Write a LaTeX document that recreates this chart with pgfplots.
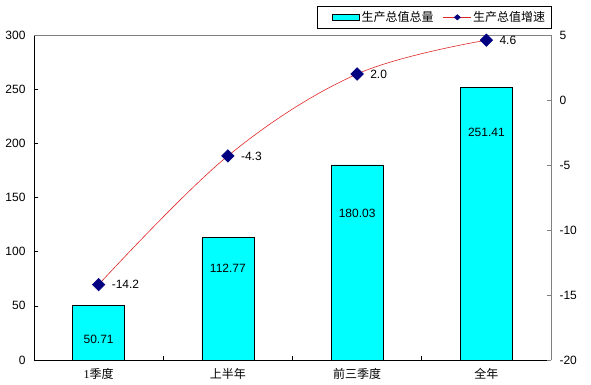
\documentclass[border=0pt]{standalone}
\usepackage{pgfplots}
\pgfplotsset{compat=1.18}
\usepackage{fontspec}
\setmainfont{Liberation Sans}
\newfontfamily\cjk{Noto Sans CJK SC}
\newfontfamily\serifnum{Liberation Serif}
\definecolor{barcyan}{HTML}{00FFFF}
\definecolor{navyblue}{HTML}{000080}
\definecolor{linered}{HTML}{E02828}
\definecolor{axgray}{HTML}{808080}
\newcommand{\fs}{\fontsize{12}{14}\selectfont}
\begin{document}
\begin{tikzpicture}
\path[use as bounding box] (-34pt,-24pt) rectangle (557pt,360pt);
\begin{axis}[
  scale only axis, width=517pt, height=325pt,
  xmin=-0.5, xmax=3.5, ymin=0, ymax=300,
  axis x line*=bottom, axis y line*=left,
  axis line style={black, line width=0.8pt},
  ytick={0,50,...,300},
  tick align=inside,
  major tick length=4pt,
  tick style={black, line width=0.6pt},
  xtick={0.5,1.5,2.5}, xticklabels={},
  extra x ticks={0,1,2,3},
  extra x tick labels={{\serifnum 1}{\cjk 季度}, {\cjk 上半年}, {\cjk 前三季度}, {\cjk 全年}},
  extra x tick style={major tick length=0pt, tick label style={yshift=-5pt}},
  tick label style={font=\fs},
  yticklabel style={xshift=-5pt},
  /pgf/number format/assume math mode=true,
]
\addplot[ybar, bar width=52pt, fill=barcyan, draw=black, line width=0.7pt]
  coordinates {(0,50.71) (1,112.77) (2,180.03) (3,251.41)};
\addplot[draw=none, mark=none, nodes near coords, point meta=explicit symbolic,
  nodes near coords style={font=\fs, anchor=center, text=black}]
  coordinates {(0,19.4)[50.71] (1,84.9)[112.77] (2,135.7)[180.03] (3,210.5)[251.41]};
\end{axis}
\begin{axis}[
  scale only axis, width=517pt, height=325pt,
  xmin=-0.5, xmax=3.5, ymin=-20, ymax=5,
  axis x line*=top, axis y line*=right,
  xtick=\empty,
  axis line style={axgray, line width=0.8pt},
  ytick={-20,-15,...,5},
  tick align=inside,
  major tick length=4pt,
  tick style={axgray, line width=0.6pt},
  yticklabel style={font=\fs, xshift=5pt},
  /pgf/number format/assume math mode=true,
  legend style={at={(1.002,1)}, anchor=south east, yshift=6pt, draw=black, line width=0.8pt,
    font=\fs\cjk, legend columns=2, inner xsep=5pt, inner ysep=4pt,
    nodes={inner sep=1.5pt},
    /tikz/every even column/.append style={column sep=8pt}},
  legend cell align=left,
]
\addlegendimage{legend image code/.code={\path[draw=none,fill=none] (-2pt,0pt) -- (8pt,0pt);
  \draw[fill=barcyan,draw=black,line width=0.7pt] (8pt,-3pt) rectangle (35pt,3pt);}}
\addlegendentry{生产总值总量}
\addplot[linered, line width=0.6pt, smooth, tension=0.6,
  mark=square*, mark size=4.4pt, mark options={draw=navyblue, fill=navyblue, rotate=45},
  nodes near coords, point meta=explicit symbolic,
  nodes near coords style={font=\fs, anchor=west, xshift=9.5pt, text=black},
  legend image code/.code={\draw[linered,line width=0.6pt] (0pt,0pt) -- (28pt,0pt);
    \fill[navyblue] (14pt,0pt) +(0,2.6pt) -- +(3pt,0) -- +(0,-2.6pt) -- +(-3pt,0) -- cycle;}]
  coordinates {(0,-14.2)[-14.2] (1,-4.3)[-4.3] (2,2.0)[2.0] (3,4.6)[4.6]};
\addlegendentry{生产总值增速}
\end{axis}
\end{tikzpicture}
\end{document}
